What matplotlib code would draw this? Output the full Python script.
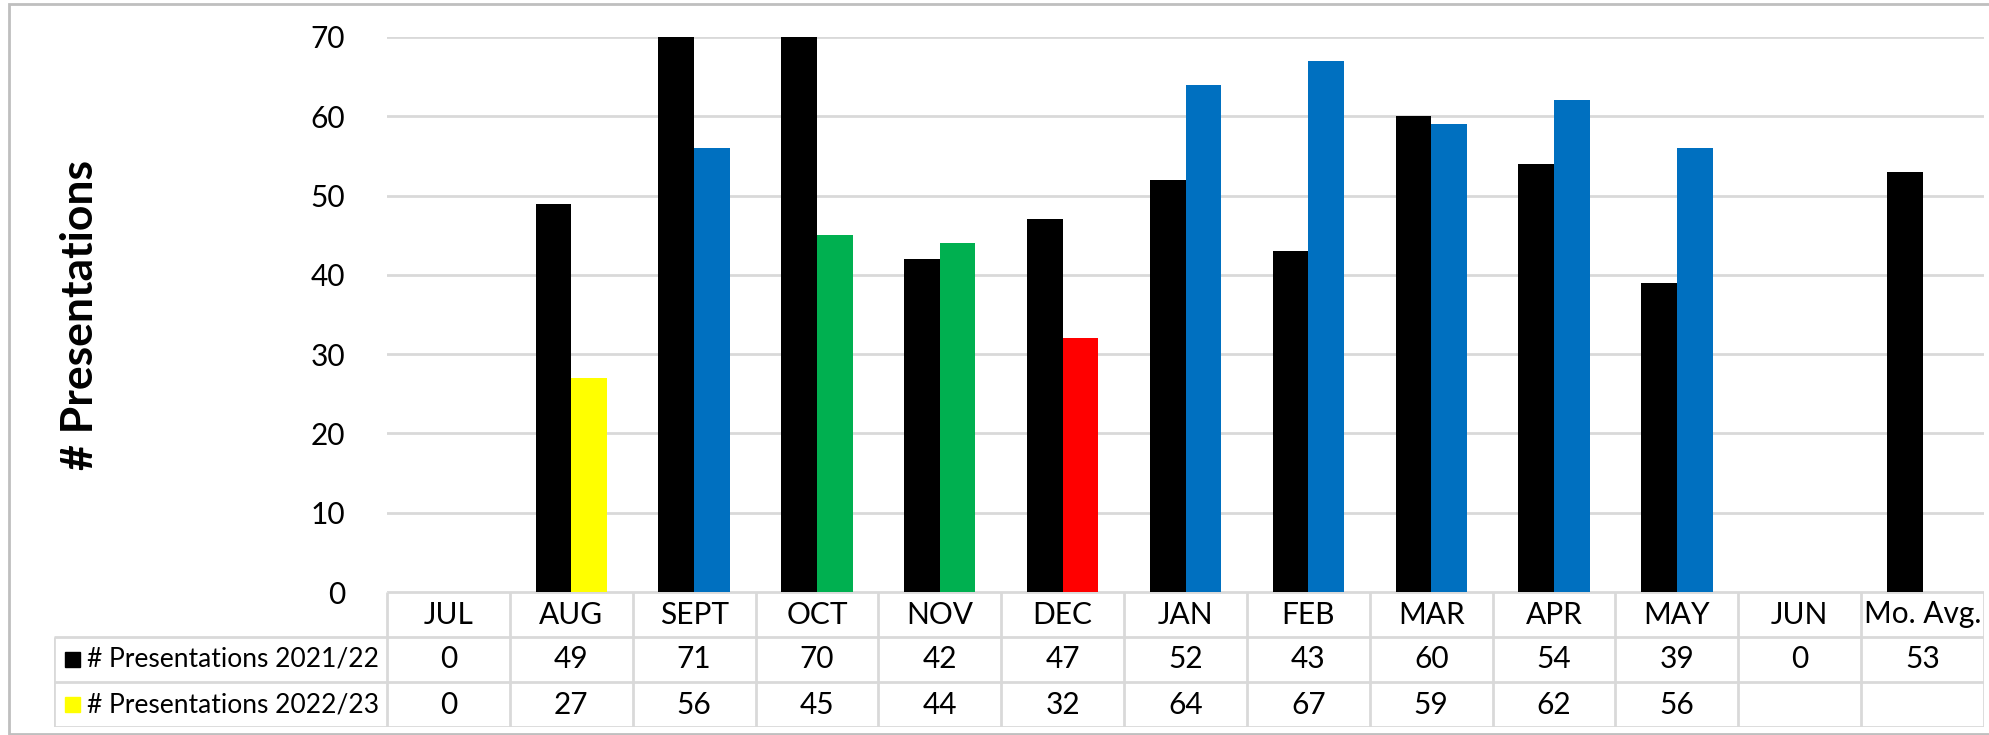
import numpy as np
import matplotlib.pyplot as plt
from matplotlib.patches import Rectangle

months = ["JUL", "AUG", "SEPT", "OCT", "NOV", "DEC", "JAN", "FEB", "MAR", "APR", "MAY", "JUN", "Mo. Avg."]
pres_2122 = [0, 49, 71, 70, 42, 47, 52, 43, 60, 54, 39, 0, 53]
pres_2223 = [0, 27, 56, 45, 44, 32, 64, 67, 59, 62, 56, None, None]
series_names = ["# Presentations 2021/22", "# Presentations 2022/23"]

BLUE = "#0070C0"
GREEN = "#00B050"
colors_2223 = ["#FFFF00", "#FFFF00", BLUE, GREEN, GREEN, "#FF0000", BLUE, BLUE, BLUE, BLUE, BLUE, BLUE, BLUE]
GRID = "#D9D9D9"

plt.rcParams["font.family"] = ["Lato", "DejaVu Sans"]

W, H = 1990, 735
fig = plt.figure(figsize=(W / 100, H / 100), dpi=100)

# pixel layout
x0, x1 = 387, 1984       # plot area / data columns
y_top, y_zero = 37, 592  # value 70 and value 0
lab_x = 54               # left edge of the table label column
row_h = 45

ax = fig.add_axes([x0 / W, 1 - y_zero / H, (x1 - x0) / W, (y_zero - y_top) / H])
n = len(months)
x = np.arange(n)
bw = 0.29

vals_a = np.array(pres_2122, dtype=float)
vals_b = np.array([np.nan if v is None else v for v in pres_2223], dtype=float)
ax.bar(x - bw / 2, vals_a, width=bw, color="black", zorder=3)
ax.bar(x + bw / 2, vals_b, width=bw, color=colors_2223, zorder=3)

ax.set_xlim(-0.5, n - 0.5)
ax.set_ylim(0, 70)
ax.set_yticks(range(0, 71, 10))
ax.yaxis.grid(True, color=GRID, linewidth=2)
ax.set_axisbelow(True)
ax.tick_params(axis="y", length=0, pad=30, labelsize=21.5)
ax.tick_params(axis="x", length=0, labelbottom=False)
for s in ax.spines.values():
    s.set_visible(False)

fig.text(80 / W, 1 - 315 / H, "# Presentations", rotation=90, ha="center", va="center",
         fontsize=32, fontweight="bold")

# data table under the bars
cw = (x1 - x0) / n
lab_units = (x0 - lab_x) / cw
tab = fig.add_axes([lab_x / W, 1 - (y_zero + 3 * row_h) / H, (x1 - lab_x) / W, 3 * row_h / H])
tab.set_xlim(-0.5 - lab_units, n - 0.5)
tab.set_ylim(3, 0)
tab.axis("off")

lkw = dict(color=GRID, linewidth=2, solid_capstyle="butt")
# horizontal rules
tab.plot([-0.5, n - 0.5], [0, 0], **lkw)
for r in (1, 2, 3):
    tab.plot([-0.5 - lab_units, n - 0.5], [r, r], **lkw)
# vertical rules
for i in range(n + 1):
    tab.plot([i - 0.5, i - 0.5], [0, 3], **lkw)
tab.plot([-0.5 - lab_units] * 2, [1, 3], **lkw)

fs = 21.5
for i, m in enumerate(months):
    tab.text(i, 0.5, m, ha="center", va="center", fontsize=fs)
for r, (name, vals) in enumerate(zip(series_names, [pres_2122, pres_2223]), start=1):
    for i, v in enumerate(vals):
        if v is not None:
            tab.text(i, r + 0.5, str(v), ha="center", va="center", fontsize=fs)
    tab.text(-0.5 - lab_units + 33 / cw, r + 0.5, name, ha="left", va="center", fontsize=19)

# legend keys in the label column
key_colors = ["black", "#FFFF00"]
for r, c in enumerate(key_colors, start=1):
    tab.add_patch(Rectangle((-0.5 - lab_units + 11 / cw, r + 0.5 - 7.5 / row_h), 15 / cw, 15 / row_h,
                            color=c, clip_on=False))

# chart frame
fig.add_artist(Rectangle((9 / W, 0.002), 1 - 9 / W, 1 - 4 / H - 0.002, transform=fig.transFigure,
                         fill=False, edgecolor="#BFBFBF", linewidth=2))

fig.savefig("out.png", dpi=100)
